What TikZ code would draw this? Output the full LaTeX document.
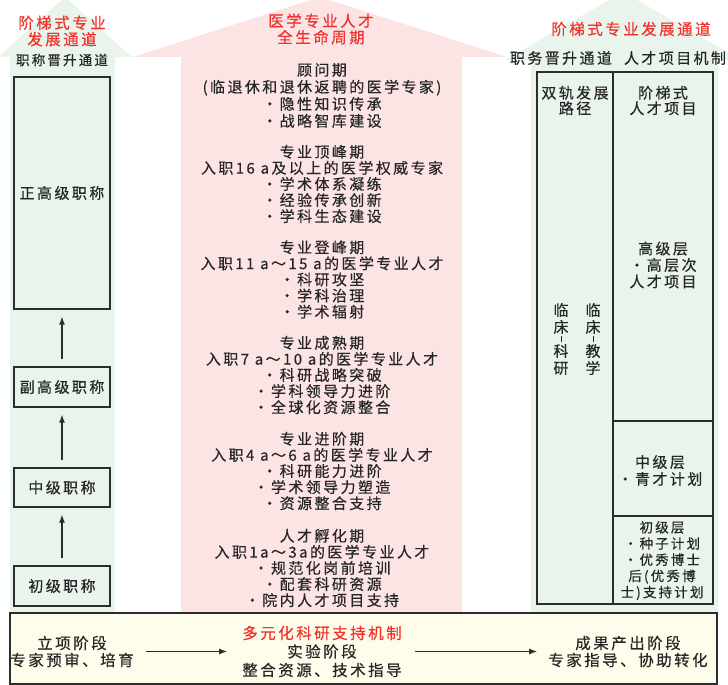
\documentclass[tikz,border=0pt]{standalone}
\usepackage{fontspec}
\usetikzlibrary{arrows.meta}
\newfontfamily\cjk{Noto Sans CJK SC}[LetterSpace=16,FakeBold=0.4]
\definecolor{gfill}{RGB}{233,244,236}
\definecolor{pfill}{RGB}{252,228,228}
\definecolor{yfill}{RGB}{254,252,234}
\definecolor{txt}{RGB}{38,38,38}
\definecolor{redt}{RGB}{240,50,45}
\definecolor{edge}{RGB}{45,45,45}
\tikzset{
  tx/.style={font={\cjk\fontsize{15}{16.1}\selectfont}, text=txt, align=center, inner sep=0pt},
  rd/.style={font={\cjk\fontsize{15.5}{16.5}\selectfont}, text=redt, align=center, inner sep=0pt},
  bx/.style={draw=edge, line width=1.3pt, fill=gfill, inner sep=0pt, font={\cjk\fontsize{15}{16.1}\selectfont}, text=txt},
  arr/.style={draw=edge, line width=1.1pt, -{Latex[length=8pt,width=6pt]}},
}
\begin{document}
\begin{tikzpicture}[x=1pt,y=-1pt]
\useasboundingbox (0,0) rectangle (728,685);
% background arrows
\fill[gfill] (10,613) -- (10,57) -- (-2,57) -- (65,-3) -- (132,57) -- (115,57) -- (115,613) -- cycle;
\fill[gfill] (531,613) -- (531,60) -- (505,60) -- (623,-8) -- (741,60) -- (718,60) -- (718,613) -- cycle;
\fill[pfill] (181,613) -- (181,57) -- (133,57) -- (320,-3) -- (507,57) -- (462,57) -- (462,613) -- cycle;

% headers
\node[rd] (lh) at (62,31) {阶梯式专业\\发展通道};
\node[tx, font={\cjk\fontsize{13.5}{15}\selectfont}] (lsub) at (62,60) {职称晋升通道};
\node[rd] (ch) at (321,29) {医学专业人才\\全生命周期};
\node[rd] (rh) at (631,29) {阶梯式专业发展通道};
\node[tx] (rs1) at (561,58) {职务晋升通道};
\node[tx] (rs2) at (675,58) {人才项目机制};

% left column
\node[bx, minimum width=96pt, minimum height=232pt] (b1) at (62,193) {正高级职称};
\node[bx, minimum width=96pt, minimum height=40pt] (b2) at (62,387) {副高级职称};
\node[bx, minimum width=96pt, minimum height=39pt] (b3) at (62,487.5) {中级职称};
\node[bx, minimum width=96pt, minimum height=40pt] (b4) at (62,586) {初级职称};
\draw[arr, shorten <=7pt, shorten >=7pt] (b2) -- (b1);
\draw[arr, shorten <=7pt, shorten >=7pt] (b3) -- (b2);
\draw[arr, shorten <=7pt, shorten >=7pt] (b4) -- (b3);

% centre column
\node[tx, font={\cjk\fontsize{15}{17}\selectfont}] (s1) at (322,95.5) {顾问期\\(临退休和退休返聘的医学专家)\\・隐性知识传承\\・战略智库建设};
\node[tx] (s2) at (322,184) {专业顶峰期\\入职16 a及以上的医学权威专家\\・学术体系凝练\\・经验传承创新\\・学科生态建设};
\node[tx] (s3) at (322,279.5) {专业登峰期\\入职11 a～15 a的医学专业人才\\・科研攻坚\\・学科治理\\・学术辐射};
\node[tx] (s4) at (322,375) {专业成熟期\\入职7 a～10 a的医学专业人才\\・科研战略突破\\・学科领导力进阶\\・全球化资源整合};
\node[tx] (s5) at (322,471) {专业进阶期\\入职4 a～6 a的医学专业人才\\・科研能力进阶\\・学术领导力塑造\\・资源整合支持};
\node[tx] (s6) at (322,568) {人才孵化期\\入职1a～3a的医学专业人才\\・规范化岗前培训\\・配套科研资源\\・院内人才项目支持};

% right column
\node[bx, minimum width=76pt, minimum height=532pt] (rl) at (575,338) {};
\node[bx, minimum width=100pt, minimum height=349pt] (rt) at (663,246.5) {};
\node[bx, minimum width=100pt, minimum height=95pt] (rm) at (663,468.5) {};
\node[bx, minimum width=100pt, minimum height=88pt] (rb) at (663,560) {};
\node[tx, font={\cjk\fontsize{15}{15.5}\selectfont}] (rlh) at (575,100.5) {双轨发展\\路径};
\node[tx, font={\cjk\fontsize{15}{15.5}\selectfont}] (rth) at (663,100.5) {阶梯式\\人才项目};
\node[tx, font={\cjk\fontsize{15}{16.5}\selectfont}] (hi) at (663,265) {高级层\\・高层次\\人才项目};
\node[tx, font={\cjk\fontsize{15}{17}\selectfont}] (mi) at (660,470.5) {中级层\\・青才计划};
\node[tx, font={\cjk\fontsize{13.5}{16.2}\selectfont}] (lo) at (662,560.5) {初级层\\・种子计划\\・优秀博士\\后(优秀博\\士)支持计划};
\node[tx, font={\cjk\fontsize{15}{17}\selectfont}] (v1) at (561,339) {临\\床\\[-5pt]\raisebox{3pt}{\rule{0.7pt}{6pt}}\\[-5pt]科\\研};
\node[tx, font={\cjk\fontsize{15}{17}\selectfont}] (v2) at (593,339) {临\\床\\[-5pt]\raisebox{3pt}{\rule{0.7pt}{6pt}}\\[-5pt]教\\学};

% bottom box
\node[draw=edge, line width=1.3pt, fill=yfill, minimum width=707pt, minimum height=71pt, inner sep=0pt] (bot) at (363.5,648.5) {};
\node[tx, font={\cjk\fontsize{15.5}{17}\selectfont}] (p1) at (72,651.5) {立项阶段\\专家预审、培育};
\node[tx, font={\cjk\fontsize{15.5}{18.5}\selectfont}] (p2) at (322,651.5) {{\color{redt}多元化科研支持机制}\\实验阶段\\整合资源、技术指导};
\node[tx, font={\cjk\fontsize{15.5}{17}\selectfont}] (p3) at (628,651.5) {成果产出阶段\\专家指导、协助转化};
\draw[arr, shorten <=12pt, shorten >=15pt] (p1) -- (p2);
\draw[arr, shorten <=13pt, shorten >=11pt] (p2) -- (p3);
\end{tikzpicture}
\end{document}
